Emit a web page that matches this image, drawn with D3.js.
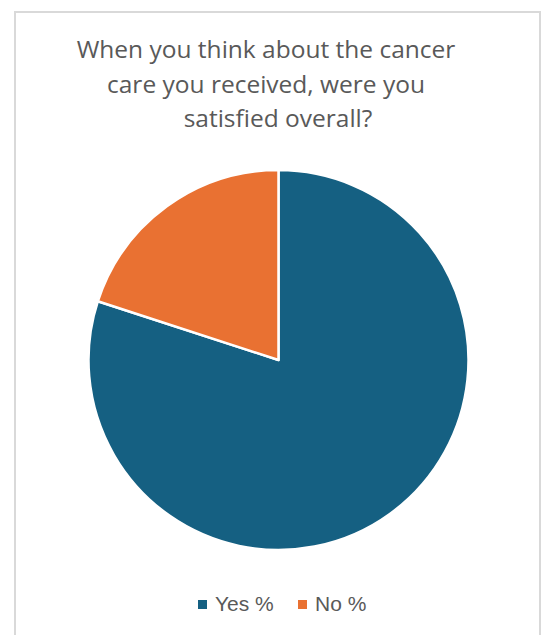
<!DOCTYPE html>
<html>
<head>
<meta charset="utf-8">
<script src="https://cdn.jsdelivr.net/npm/d3@7"></script>
<style>
  html, body { margin: 0; padding: 0; background: #fff; }
  svg { display: block; }
</style>
</head>
<body>
<svg id="chart" width="546" height="635"></svg>
<script>
// Survey answers
const categories = ["Yes %", "No %"];
const values = [80, 20];
const colors = ["#156082", "#E97132"];
const titleLines = ["When you think about the cancer", "care you received, were you", "satisfied overall?"];

const svg = d3.select("#chart");
const textColor = "#595959";
const titleFont = "'Open Sans', 'Noto Sans', sans-serif";
const legendFont = "'Liberation Sans', Arial, sans-serif";

// Chart frame (open at the bottom edge)
svg.append("path")
  .attr("d", "M15,640 L15,12 L540,12 L540,640")
  .attr("fill", "none")
  .attr("stroke", "#d9d9d9")
  .attr("stroke-width", 2);

// Title (wrapped lines keep their trailing space, so the first two sit a bit left)
const titleX = [266, 266, 278];
svg.append("text")
  .attr("font-family", titleFont)
  .attr("font-size", 24.5)
  .attr("fill", textColor)
  .attr("text-anchor", "middle")
  .selectAll("tspan")
  .data(titleLines)
  .join("tspan")
  .attr("x", (d, i) => titleX[i])
  .attr("y", (d, i) => 58 + i * 34.5)
  .text(d => d);

// Pie
const cx = 278.5, cy = 360, radius = 190;
const pie = d3.pie().sort(null).value(d => d.value);
const arc = d3.arc().innerRadius(0).outerRadius(radius);
const data = categories.map((c, i) => ({ name: c, value: values[i], color: colors[i] }));

svg.append("g")
  .attr("transform", `translate(${cx},${cy})`)
  .selectAll("path")
  .data(pie(data))
  .join("path")
  .attr("d", arc)
  .attr("fill", d => d.data.color)
  .attr("stroke", "#fff")
  .attr("stroke-width", 2.5)
  .attr("stroke-linejoin", "round");

// Legend
const legendX = [198, 298];
const legend = svg.append("g");
data.forEach((d, i) => {
  const g = legend.append("g").attr("transform", `translate(${legendX[i]},600)`);
  g.append("rect").attr("width", 9).attr("height", 9).attr("fill", d.color);
  g.append("text")
    .attr("x", 17)
    .attr("y", 10.5)
    .attr("font-family", legendFont)
    .attr("font-size", 21)
    .attr("fill", textColor)
    .text(d.name);
});
</script>
</body>
</html>
